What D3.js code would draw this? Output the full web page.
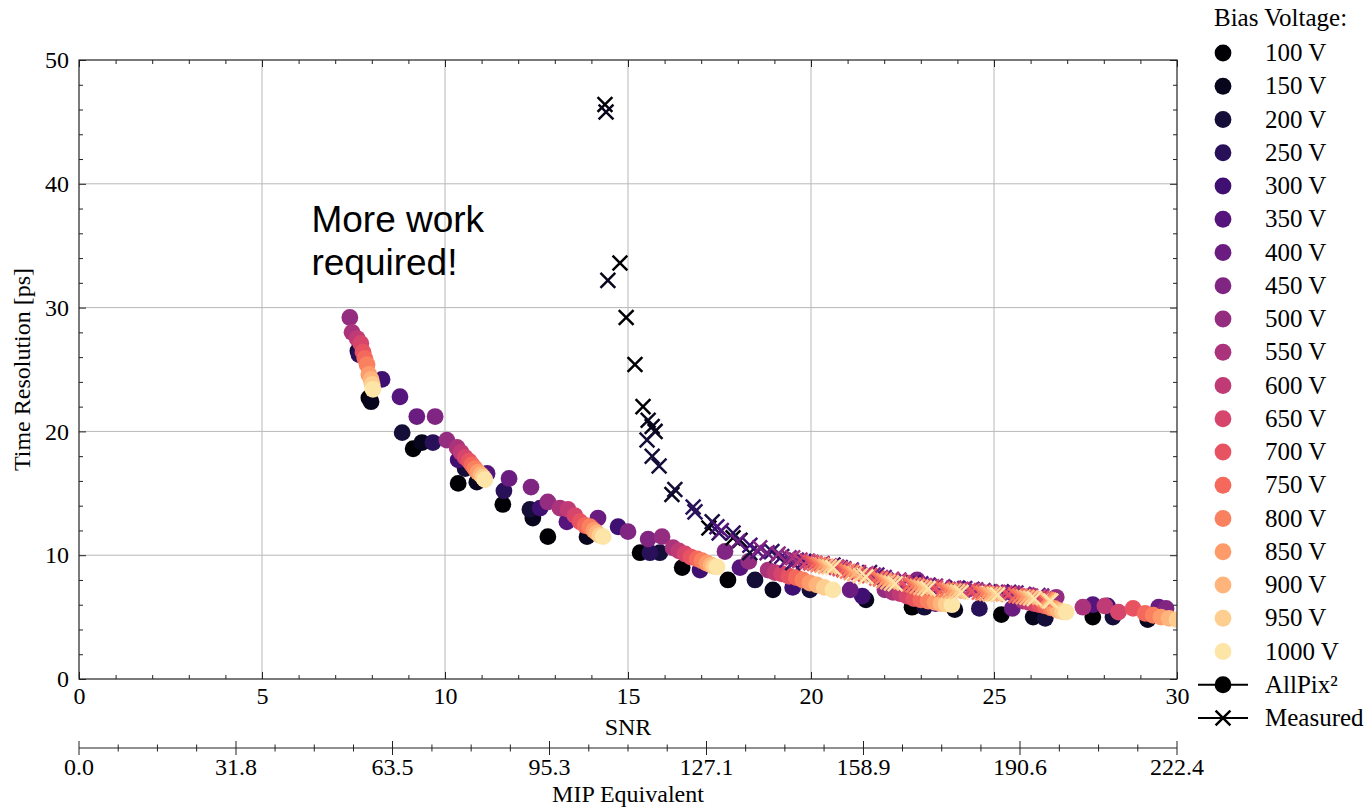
<!DOCTYPE html>
<html>
<head>
<meta charset="utf-8">
<script src="https://cdn.jsdelivr.net/npm/d3@7"></script>
<style>
body { margin: 0; background: #fff; }
text { font-family: "Liberation Serif", serif; fill: #000; }
</style>
</head>
<body>
<script>
const width = 1366;
const height = 810;
const plotLeft = 79, plotRight = 1177, plotTop = 60, plotBottom = 679;

const voltages = [100, 150, 200, 250, 300, 350, 400, 450, 500, 550,
                  600, 650, 700, 750, 800, 850, 900, 950, 1000];
const xTicks = [0, 5, 10, 15, 20, 25, 30];
const yTicks = [0, 10, 20, 30, 40, 50];
const mipTicks = [0.0, 31.8, 63.5, 95.3, 127.1, 158.9, 190.6, 222.4];

// AllPix² simulation: [bias voltage, SNR, time resolution ps]
const allpix = [
  [500,7.40,29.2],[550,7.46,28.0],[600,7.60,27.5],[650,7.70,27.1],[200,7.62,26.5],[250,7.65,26.2],
  [700,7.76,26.4],[750,7.81,25.9],[800,7.87,25.4],[850,7.92,24.6],[900,7.98,24.2],[950,8.01,23.8],
  [1000,8.03,23.4],[100,7.92,22.7],[150,7.98,22.4],[300,8.28,24.2],[350,8.77,22.8],[400,9.23,21.2],
  [450,9.73,21.2],
  [200,8.83,19.9],[100,9.13,18.6],[150,9.37,19.1],[250,9.67,19.1],[500,10.05,19.3],[550,10.33,18.7],
  [600,10.44,18.3],[650,10.55,17.9],[700,10.66,17.6],[750,10.74,17.3],[800,10.82,17.0],[850,10.90,16.7],
  [900,10.98,16.5],[950,11.04,16.3],[1000,11.09,16.1],[300,10.36,17.7],[200,10.55,17.0],[100,10.36,15.8],
  [150,10.87,15.9],[350,11.15,16.6],[400,11.75,16.2],[250,11.61,15.2],[100,11.58,14.1],
  [450,12.35,15.5],[200,12.32,13.7],[150,12.40,13.0],[300,12.60,13.8],[500,12.81,14.3],[100,12.81,11.5],
  [550,13.14,13.8],[600,13.36,13.7],[650,13.55,13.2],[700,13.69,12.7],[750,13.83,12.4],[800,13.96,12.3],
  [850,14.07,12.0],[900,14.15,11.8],[950,14.23,11.6],[1000,14.32,11.5],[350,13.33,12.7],[400,14.18,13.0],
  [150,13.88,11.5],[300,14.73,12.3],[450,15.0,11.9],[450,15.55,11.3],[500,15.93,11.5],[100,15.33,10.2],
  [250,15.6,10.2],[200,15.87,10.2],
  [550,16.23,10.6],[600,16.39,10.35],[650,16.56,10.1],[700,16.72,9.85],[750,16.89,9.7],[800,17.02,9.55],
  [850,17.16,9.35],[900,17.27,9.2],[950,17.35,9.1],[1000,17.43,9.05],[100,16.48,9.0],[300,16.97,8.8],
  [450,17.65,10.3],[100,17.73,8.0],[350,18.06,9.0],[500,18.3,9.5],[200,18.47,8.0],[150,18.96,7.2],
  [550,18.83,8.8],[600,19.02,8.6],[650,19.2,8.5],[700,19.4,8.3],[750,19.6,8.2],[800,19.78,8.0],
  [850,19.97,7.75],[900,20.16,7.6],[950,20.36,7.4],[1000,20.6,7.2],[300,19.5,7.4],[200,19.97,7.2],
  [400,21.07,7.2],[300,21.4,6.7],[150,21.5,6.4],[450,22.9,8.0],
  [500,22.02,7.2],[550,22.24,7.0],[600,22.43,6.9],[650,22.62,6.7],[700,22.81,6.5],[750,23.0,6.4],
  [800,23.2,6.3],[850,23.39,6.2],[900,23.55,6.1],[950,23.69,6.05],[1000,23.85,6.0],[100,22.76,5.8],
  [200,23.1,5.8],[350,23.4,6.1],[150,23.93,5.6],[250,24.6,5.7],[100,25.2,5.2],[400,25.5,5.7],
  [150,26.07,5.0],[200,26.4,4.9],[500,26.7,6.6],[550,25.8,6.3],[600,25.95,6.2],[650,26.1,6.1],
  [700,26.25,6.0],[750,26.4,5.9],[800,26.55,5.75],[850,26.65,5.7],[900,26.75,5.55],[950,26.87,5.45],
  [1000,26.97,5.4],
  [550,27.43,5.8],[350,27.7,6.0],[600,28.03,5.9],[100,27.7,5.0],[300,28.1,5.9],[200,28.25,5.0],
  [650,28.4,5.4],[700,28.8,5.7],[150,29.2,4.8],[400,29.5,5.8],[450,29.7,5.7],[750,29.13,5.3],
  [800,29.35,5.15],[850,29.56,5.0],[900,29.78,4.9],[950,30.0,4.8],[1000,30.22,4.7]
];

// Measured: [bias voltage, SNR, time resolution ps]
const measured = [
  [100,14.37,46.4],[100,14.78,33.6],[100,14.95,29.2],[100,15.19,25.4],[100,15.41,22.0],[100,17.21,12.2],[100,17.87,11.4],
  [150,14.40,45.8],[150,14.45,32.2],[150,15.55,20.9],[150,15.66,20.4],[150,15.74,20.0],[150,16.20,14.9],[150,18.06,11.2],
  [200,15.52,19.3],[200,15.66,18.0],[200,15.85,17.2],[200,16.28,15.3],[200,17.30,12.7],[200,18.33,10.2],[200,19.07,10.0],
  [250,16.78,13.9],[250,16.83,13.5],[250,17.49,11.8],[250,17.87,11.8],[250,18.93,10.3],[250,19.5,9.4],
  [300,17.43,12.3],[300,18.33,10.8],[300,19.2,9.9],[300,19.8,9.5],[300,20.6,9.2],[300,21.6,8.6],[300,22.8,7.8],[300,24.0,7.35],[300,25.2,7.05],
  [350,17.55,12.0],[350,18.55,10.3],[350,19.34,9.6],[350,20.0,9.4],[350,20.8,9.0],[350,21.8,8.4],[350,23.0,7.7],[350,24.2,7.3],[350,25.4,7.0],[350,26.2,6.75],
  [400,18.0,11.1],[400,18.8,10.2],[400,19.6,9.6],[400,20.3,9.3],[400,21.1,8.8],[400,22.0,8.2],[400,23.2,7.6],[400,24.4,7.25],[400,25.6,6.95],[400,26.3,6.7],
  [450,18.6,10.6],[450,19.4,9.8],[450,20.1,9.35],[450,20.9,8.9],[450,21.7,8.4],[450,22.6,7.9],[450,23.6,7.45],[450,24.7,7.15],[450,25.8,6.85],
  [500,19.1,10.1],[500,19.9,9.5],[500,20.7,9.05],[500,21.5,8.5],[500,22.4,8.0],[500,23.4,7.5],[500,24.5,7.2],[500,25.5,6.95],[500,26.3,6.65],
  [550,19.5,9.8],[550,20.3,9.3],[550,21.1,8.75],[550,21.9,8.2],[550,22.9,7.7],[550,23.9,7.35],[550,24.9,7.05],[550,25.9,6.8],
  [600,19.7,9.6],[600,20.5,9.15],[600,21.3,8.6],[600,22.2,8.05],[600,23.1,7.55],[600,24.1,7.25],[600,25.1,7.0],[600,26.0,6.7],
  [650,19.9,9.5],[650,20.7,9.0],[650,21.5,8.45],[650,22.4,7.9],[650,23.3,7.45],[650,24.3,7.15],[650,25.3,6.95],[650,26.2,6.6],
  [700,20.0,9.4],[700,20.8,8.9],[700,21.6,8.35],[700,22.5,7.8],[700,23.4,7.35],[700,24.4,7.1],[700,25.4,6.85],[700,26.3,6.5],
  [750,20.1,9.35],[750,20.9,8.8],[750,21.8,8.15],[750,22.7,7.65],[750,23.6,7.25],[750,24.6,7.0],[750,25.6,6.75],[750,26.4,6.45],
  [800,20.2,9.25],[800,21.0,8.7],[800,21.9,8.05],[800,22.8,7.6],[800,23.7,7.2],[800,24.7,6.95],[800,25.7,6.7],[800,26.4,6.4],
  [850,20.3,9.2],[850,21.1,8.6],[850,22.0,7.95],[850,22.9,7.5],[850,23.8,7.15],[850,24.8,6.9],[850,25.8,6.65],[850,26.45,6.4],
  [900,20.4,9.1],[900,21.2,8.5],[900,22.1,7.85],[900,23.0,7.4],[900,23.9,7.1],[900,24.9,6.85],[900,25.9,6.6],[900,26.5,6.35],
  [950,20.5,9.05],[950,21.35,8.35],[950,22.2,7.75],[950,23.1,7.35],[950,24.0,7.05],[950,25.0,6.85],[950,26.0,6.55],[950,26.5,6.3],
  [1000,20.6,9.0],[1000,21.5,8.25],[1000,22.3,7.7],[1000,23.2,7.3],[1000,24.1,7.0],[1000,25.1,6.8],[1000,26.1,6.5],[1000,26.55,6.3]
];

const color = v => d3.interpolateMagma(voltages.indexOf(v) / 19);

const svg = d3.select("body")
    .append("svg")
    .attr("width", width)
    .attr("height", height);

const x = d3.scaleLinear().domain([0, 30]).range([plotLeft, plotRight]);
const y = d3.scaleLinear().domain([0, 50]).range([plotBottom, plotTop]);
const mip = d3.scaleLinear().domain([0, 222.4]).range([plotLeft, plotRight]);

const tickFont = 24;
const legendFont = 25;

// grid
svg.append("g")
    .selectAll("line")
    .data(xTicks.slice(1, -1))
    .enter().append("line")
    .attr("x1", d => x(d)).attr("x2", d => x(d))
    .attr("y1", plotTop).attr("y2", plotBottom)
    .attr("stroke", "#b8b8b8").attr("stroke-width", 1);

svg.append("g")
    .selectAll("line")
    .data(yTicks.slice(1, -1))
    .enter().append("line")
    .attr("x1", plotLeft).attr("x2", plotRight)
    .attr("y1", d => y(d)).attr("y2", d => y(d))
    .attr("stroke", "#b8b8b8").attr("stroke-width", 1);

svg.append("clipPath").attr("id", "plotclip")
    .append("rect")
    .attr("x", plotLeft).attr("y", plotTop)
    .attr("width", plotRight - plotLeft).attr("height", plotBottom - plotTop);

const plot = svg.append("g").attr("clip-path", "url(#plotclip)");

// simulated points, drawn by voltage
const apSorted = allpix.slice().sort((a, b) => a[0] - b[0]);
plot.append("g")
    .selectAll("circle")
    .data(apSorted)
    .enter().append("circle")
    .attr("cx", d => x(d[1]))
    .attr("cy", d => y(d[2]))
    .attr("r", 8.4)
    .attr("fill", d => color(d[0]));

// measured crosses
const cs = 7.4;
plot.append("g")
    .selectAll("path")
    .data(measured)
    .enter().append("path")
    .attr("d", d => {
        const cx = x(d[1]), cy = y(d[2]);
        return `M${cx - cs},${cy - cs}L${cx + cs},${cy + cs}M${cx - cs},${cy + cs}L${cx + cs},${cy - cs}`;
    })
    .attr("stroke", d => color(d[0]))
    .attr("stroke-width", 2.5)
    .attr("fill", "none");

// axes: inward ticks on all four sides
function styleAxis(g) {
    g.select(".domain").remove();
    g.selectAll(".tick line").attr("stroke", "#222").attr("stroke-width", 1);
    g.selectAll("text")
        .attr("font-family", "Liberation Serif, serif")
        .attr("font-size", tickFont)
        .attr("fill", "#000");
}

const minorX = d3.range(0, 31, 1).filter(d => d % 5 !== 0);
const minorY = d3.range(0, 51, 2).filter(d => d % 10 !== 0);

svg.append("g").attr("transform", `translate(0,${plotBottom})`)
    .call(d3.axisBottom(x).tickValues(xTicks).tickSize(-7).tickPadding(8).tickFormat(d3.format("d")))
    .call(styleAxis);
svg.append("g").attr("transform", `translate(0,${plotBottom})`)
    .call(d3.axisBottom(x).tickValues(minorX).tickSize(-4).tickFormat(""))
    .call(styleAxis);
svg.append("g").attr("transform", `translate(0,${plotTop})`)
    .call(d3.axisTop(x).tickValues(xTicks).tickSize(-7).tickFormat(""))
    .call(styleAxis);
svg.append("g").attr("transform", `translate(0,${plotTop})`)
    .call(d3.axisTop(x).tickValues(minorX).tickSize(-4).tickFormat(""))
    .call(styleAxis);
svg.append("g").attr("transform", `translate(${plotLeft},0)`)
    .call(d3.axisLeft(y).tickValues(yTicks).tickSize(-7).tickPadding(10).tickFormat(d3.format("d")))
    .call(styleAxis);
svg.append("g").attr("transform", `translate(${plotLeft},0)`)
    .call(d3.axisLeft(y).tickValues(minorY).tickSize(-4).tickFormat(""))
    .call(styleAxis);
svg.append("g").attr("transform", `translate(${plotRight},0)`)
    .call(d3.axisRight(y).tickValues(yTicks).tickSize(-7).tickFormat(""))
    .call(styleAxis);
svg.append("g").attr("transform", `translate(${plotRight},0)`)
    .call(d3.axisRight(y).tickValues(minorY).tickSize(-4).tickFormat(""))
    .call(styleAxis);

svg.append("rect")
    .attr("x", plotLeft).attr("y", plotTop)
    .attr("width", plotRight - plotLeft).attr("height", plotBottom - plotTop)
    .attr("fill", "none").attr("stroke", "#222").attr("stroke-width", 1.2);

// secondary MIP axis
const mipY = 748;
const mipAxis = svg.append("g");
mipAxis.append("line")
    .attr("x1", plotLeft).attr("x2", plotRight)
    .attr("y1", mipY).attr("y2", mipY)
    .attr("stroke", "#222").attr("stroke-width", 1.2);
const mipStep = mip.domain()[1] / 7;
const mipMinor = d3.range(0, 29).map(i => i * mipStep / 4).filter((d, i) => i % 4 !== 0);
mipAxis.selectAll(".minor")
    .data(mipMinor)
    .enter().append("line")
    .attr("x1", d => mip(d)).attr("x2", d => mip(d))
    .attr("y1", mipY - 3.5).attr("y2", mipY + 3.5)
    .attr("stroke", "#222").attr("stroke-width", 1);
mipAxis.selectAll(".major")
    .data(mipTicks)
    .enter().append("line")
    .attr("x1", d => mip(d)).attr("x2", d => mip(d))
    .attr("y1", mipY - 7).attr("y2", mipY + 7)
    .attr("stroke", "#222").attr("stroke-width", 1);
mipAxis.selectAll("text")
    .data(mipTicks)
    .enter().append("text")
    .attr("x", d => mip(d))
    .attr("y", mipY + 27)
    .attr("text-anchor", "middle")
    .attr("font-size", tickFont)
    .text(d => d.toFixed(1));

// axis titles
svg.append("text")
    .attr("x", (plotLeft + plotRight) / 2).attr("y", 735)
    .attr("text-anchor", "middle").attr("font-size", tickFont)
    .text("SNR");
svg.append("text")
    .attr("x", (plotLeft + plotRight) / 2).attr("y", 802)
    .attr("text-anchor", "middle").attr("font-size", tickFont)
    .text("MIP Equivalent");
svg.append("text")
    .attr("transform", `translate(30,${(plotTop + plotBottom) / 2}) rotate(-90)`)
    .attr("text-anchor", "middle").attr("font-size", tickFont)
    .text("Time Resolution [ps]");

// annotation
const note = svg.append("text")
    .attr("x", x(6.35)).attr("y", y(36.1))
    .style("font-family", "'Liberation Sans', Arial, sans-serif")
    .attr("font-size", 37);
note.append("tspan").attr("x", x(6.35)).text("More work");
note.append("tspan").attr("x", x(6.35)).attr("dy", 43).text("required!");

// legend
const lg = svg.append("g");
const rowH = 33.25;
lg.append("text")
    .attr("x", 1214).attr("y", 26)
    .attr("font-size", legendFont)
    .text("Bias Voltage:");

const rows = lg.selectAll(".row")
    .data(voltages)
    .enter().append("g")
    .attr("transform", (d, i) => `translate(0,${53 + i * rowH})`);
rows.append("circle")
    .attr("cx", 1223).attr("cy", 0).attr("r", 8.4)
    .attr("fill", d => color(d));
rows.append("text")
    .attr("x", 1265).attr("y", 8)
    .attr("font-size", legendFont)
    .text(d => d + " V");

const apRow = lg.append("g").attr("transform", `translate(0,${53 + 19 * rowH})`);
apRow.append("line").attr("x1", 1198).attr("x2", 1248).attr("y1", 0).attr("y2", 0)
    .attr("stroke", "#000").attr("stroke-width", 2);
apRow.append("circle").attr("cx", 1223).attr("cy", 0).attr("r", 8.4).attr("fill", "#000");
apRow.append("text").attr("x", 1265).attr("y", 8).attr("font-size", legendFont).text("AllPix²");

const msRow = lg.append("g").attr("transform", `translate(0,${53 + 20 * rowH})`);
msRow.append("line").attr("x1", 1198).attr("x2", 1248).attr("y1", 0).attr("y2", 0)
    .attr("stroke", "#000").attr("stroke-width", 2);
msRow.append("path")
    .attr("d", `M${1223 - cs},${-cs}L${1223 + cs},${cs}M${1223 - cs},${cs}L${1223 + cs},${-cs}`)
    .attr("stroke", "#000").attr("stroke-width", 2.5);
msRow.append("text").attr("x", 1265).attr("y", 8).attr("font-size", legendFont).text("Measured");
</script>
</body>
</html>
